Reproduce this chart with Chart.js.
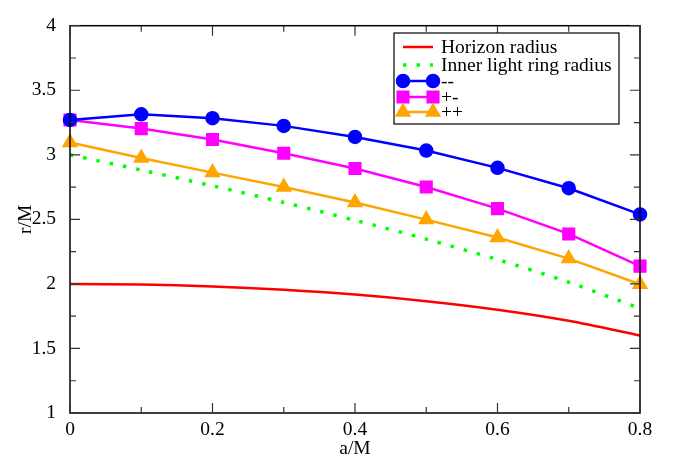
<!DOCTYPE html>
<html>
<head>
<meta charset="utf-8">
<script src="https://cdn.jsdelivr.net/npm/chart.js@4/dist/chart.umd.min.js"></script>
<style>
  html, body { margin: 0; padding: 0; background: #fff; }
  canvas { display: block; }
</style>
</head>
<body>
<canvas id="chart" width="673" height="461"></canvas>
<script>
const spin = [0, 0.1, 0.2, 0.3, 0.4, 0.5, 0.6, 0.7, 0.8];
const horizonRadius = [2.0, 1.995, 1.980, 1.954, 1.917, 1.866, 1.800, 1.714, 1.600];
const lightRingRadius = [3.0, 2.882, 2.760, 2.631, 2.493, 2.347, 2.189, 2.013, 1.811];
const seriesMM = [3.27, 3.314, 3.284, 3.224, 3.138, 3.033, 2.899, 2.741, 2.538];
const seriesPM = [3.27, 3.203, 3.118, 3.012, 2.894, 2.751, 2.583, 2.387, 2.138];
const seriesPP = [3.095, 2.975, 2.862, 2.751, 2.630, 2.498, 2.359, 2.196, 1.997];

const serif = "'Liberation Serif', 'DejaVu Serif', serif";

function pts(ys) {
  return spin.map((x, i) => ({ x: x, y: ys[i] }));
}

function fmt(v) {
  return String(Math.round(v * 10) / 10);
}

// inward ticks on all four sides, frame and legend box
const framePlugin = {
  id: "frame",
  afterDraw(chart) {
    const ctx = chart.ctx;
    const a = chart.chartArea;
    const xs = chart.scales.x;
    const ys = chart.scales.y;
    ctx.save();
    ctx.strokeStyle = "#000";
    ctx.lineWidth = 1.5;
    ctx.strokeRect(a.left, a.top, a.right - a.left, a.bottom - a.top);
    ctx.lineWidth = 1.2;
    ctx.strokeStyle = "#333";
    for (let v = 0; v <= 0.8001; v += 0.1) {
      const px = xs.getPixelForValue(v);
      const major = Math.round(v * 10) % 2 === 0;
      const len = major ? 10 : 6;
      ctx.beginPath();
      ctx.moveTo(px, a.bottom); ctx.lineTo(px, a.bottom - len);
      ctx.moveTo(px, a.top); ctx.lineTo(px, a.top + len);
      ctx.stroke();
    }
    for (let v = 1; v <= 4.0001; v += 0.25) {
      const py = ys.getPixelForValue(v);
      const major = Math.round(v * 4) % 2 === 0;
      const len = major ? 10 : 6;
      ctx.beginPath();
      ctx.moveTo(a.left, py); ctx.lineTo(a.left + len, py);
      ctx.moveTo(a.right, py); ctx.lineTo(a.right - len, py);
      ctx.stroke();
    }

    // legend
    const bx = 394, by = 33, bw = 225, bh = 91;
    ctx.fillStyle = "#fff";
    ctx.fillRect(bx, by, bw, bh);
    ctx.strokeStyle = "#000";
    ctx.lineWidth = 1.2;
    ctx.strokeRect(bx, by, bw, bh);
    const rows = [47, 65, 81, 97, 112];
    ctx.font = "19.5px " + serif;
    ctx.textBaseline = "middle";
    chart.data.datasets.forEach((ds, i) => {
      const y = rows[i];
      ctx.strokeStyle = ds.borderColor;
      ctx.lineWidth = ds.borderWidth;
      ctx.setLineDash(ds.borderDash || []);
      ctx.beginPath();
      ctx.moveTo(403, y); ctx.lineTo(433, y);
      ctx.stroke();
      ctx.setLineDash([]);
      if (ds.pointRadius > 0) {
        const opts = { pointStyle: ds.pointStyle, radius: ds.pointRadius, borderWidth: 1, rotation: 0 };
        ctx.fillStyle = ds.pointBackgroundColor;
        ctx.strokeStyle = ds.pointBackgroundColor;
        Chart.helpers.drawPoint(ctx, opts, 403, y);
        Chart.helpers.drawPoint(ctx, opts, 433, y);
      }
      ctx.fillStyle = "#000";
      ctx.fillText(ds.label, 441, y + 1);
    });
    ctx.restore();
  }
};

new Chart(document.getElementById("chart"), {
  type: "line",
  data: {
    datasets: [
      { label: "Horizon radius", data: pts(horizonRadius), borderColor: "#ff0000", borderWidth: 2.5, pointRadius: 0, tension: 0.3 },
      { label: "Inner light ring radius", data: pts(lightRingRadius), borderColor: "#00ff00", borderWidth: 3.5, borderDash: [3.5, 10], pointRadius: 0, tension: 0.3 },
      { label: "--", data: pts(seriesMM), borderColor: "#0000ff", borderWidth: 2.5, pointStyle: "circle", pointRadius: 6, pointBackgroundColor: "#0000ff", pointBorderColor: "#0000ff" },
      { label: "+-", data: pts(seriesPM), borderColor: "#ff00ff", borderWidth: 2.5, pointStyle: "rect", pointRadius: 7.5, pointBackgroundColor: "#ff00ff", pointBorderColor: "#ff00ff" },
      { label: "++", data: pts(seriesPP), borderColor: "#ffa500", borderWidth: 2.5, pointStyle: "triangle", pointRadius: 7, pointBackgroundColor: "#ffa500", pointBorderColor: "#ffa500" }
    ]
  },
  options: {
    responsive: false,
    animation: false,
    clip: false,
    layout: { padding: { top: 15, right: 33, left: 0, bottom: 0 } },
    plugins: { legend: { display: false }, tooltip: { enabled: false } },
    scales: {
      x: {
        type: "linear",
        min: 0, max: 0.8,
        grid: { display: false, drawTicks: false },
        border: { display: false },
        ticks: { stepSize: 0.2, padding: 5, color: "#000", font: { family: serif, size: 19.5 }, callback: fmt },
        title: { display: true, text: "a/M", color: "#000", padding: { top: 0, bottom: 0 }, font: { family: serif, size: 19.5 } },
        afterFit(scale) { scale.height = 48; }
      },
      y: {
        min: 1, max: 4,
        grid: { display: false, drawTicks: false },
        border: { display: false },
        ticks: { stepSize: 0.5, padding: 14, color: "#000", font: { family: serif, size: 19.5 }, callback: fmt },
        title: { display: true, text: "r/M", color: "#000", padding: { top: 14, bottom: 0 }, font: { family: serif, size: 19.5 } },
        afterFit(scale) { scale.width = 70; }
      }
    }
  },
  plugins: [framePlugin]
});
</script>
</body>
</html>
